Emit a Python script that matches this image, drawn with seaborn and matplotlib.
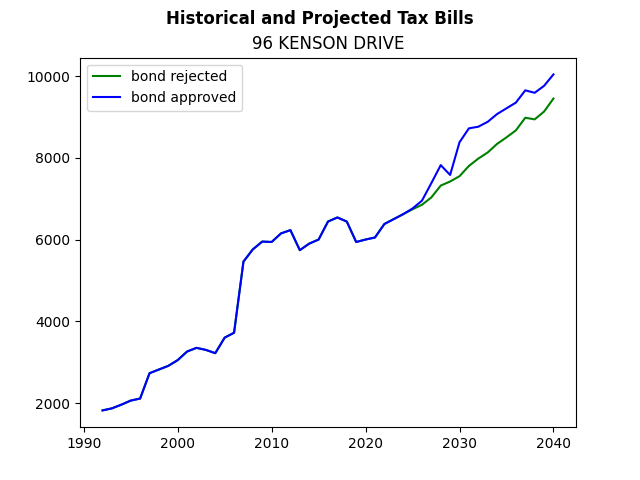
import matplotlib
matplotlib.use("Agg")
import matplotlib.pyplot as plt
import seaborn as sns
import pandas as pd

years = list(range(1992, 2041))
history = [1820, 1870, 1960, 2060, 2110, 2730, 2820, 2910, 3050, 3260,
           3350, 3300, 3220, 3600, 3720, 5460, 5760, 5950, 5940, 6150,
           6230, 5740, 5900, 6000, 6440, 6540, 6440, 5940, 6000, 6050,
           6380, 6500, 6620]
rejected_future = [6740, 6850, 7030, 7320, 7420, 7550, 7800, 7980, 8130, 8340,
                   8500, 8670, 8980, 8940, 9130, 9450]
approved_future = [6760, 6950, 7380, 7820, 7580, 8380, 8720, 8760, 8880, 9070,
                   9210, 9350, 9650, 9590, 9760, 10040]

df = pd.DataFrame({
    "year": years + years,
    "tax": history + rejected_future + history + approved_future,
    "scenario": ["bond rejected"] * len(years) + ["bond approved"] * len(years),
})

fig, ax = plt.subplots(figsize=(6.4, 4.8), dpi=100)
sns.lineplot(data=df, x="year", y="tax", hue="scenario",
             palette={"bond rejected": "green", "bond approved": "blue"}, ax=ax)
ax.set_xlabel("")
ax.set_ylabel("")
ax.set_title("96 KENSON DRIVE")
fig.suptitle("Historical and Projected Tax Bills", fontweight="bold")
ax.legend(loc="upper left")
fig.savefig("out.png")
